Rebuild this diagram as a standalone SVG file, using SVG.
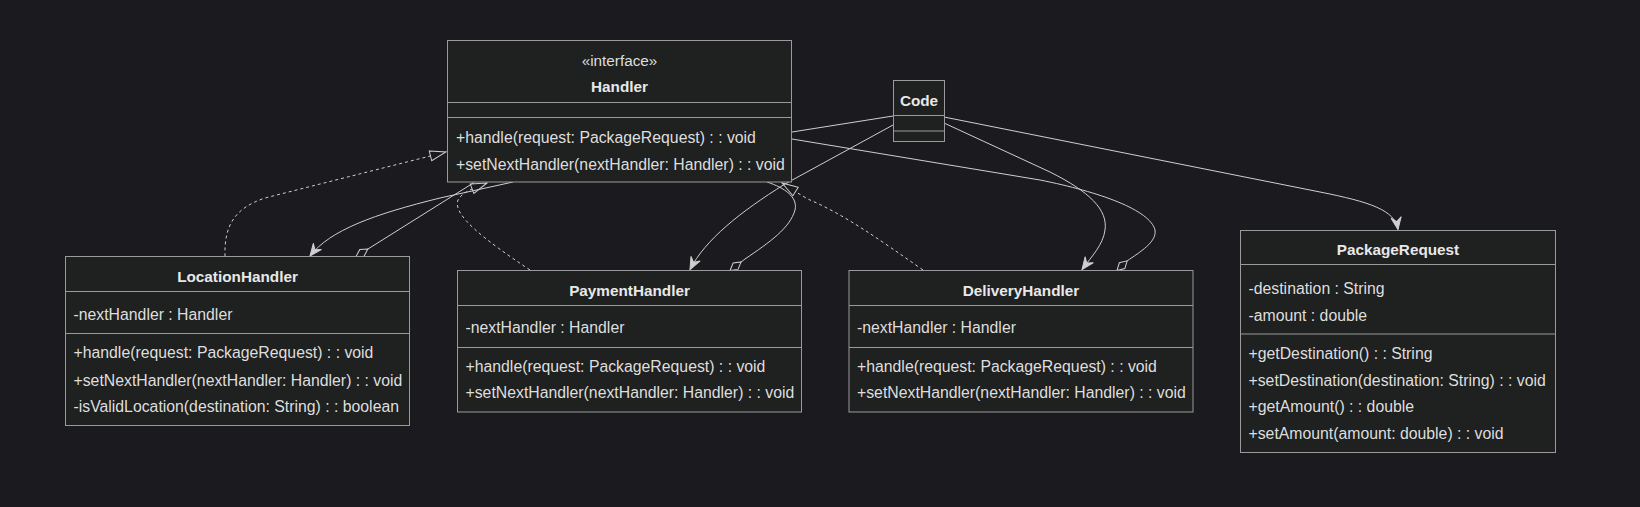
<svg xmlns="http://www.w3.org/2000/svg" width="1640" height="507" viewBox="0 0 1640 507">
<style>
.bg{fill:#1b1b1f}
.box{fill:#1f2020;stroke:#9a9a9a;stroke-width:1}
.div{stroke:#9a9a9a;stroke-width:1}
.t{font-family:"Liberation Sans",Arial,sans-serif;font-size:15.8px;fill:#dedede}
.b{font-weight:bold;font-size:15.3px;fill:#e8e8e8;text-anchor:middle}
.m{text-anchor:middle;font-size:15.3px}
.e{fill:none;stroke:#cfcfcf;stroke-width:1}
.d{stroke-dasharray:3 3}
</style>
<defs>
<marker id="ext" markerUnits="userSpaceOnUse" viewBox="-1 -1 18 12" refX="16" refY="5" markerWidth="18" markerHeight="12" orient="auto">
<path d="M0,0 L16,5 L0,10 Z" fill="#1b1b1f" stroke="#cfcfcf" stroke-width="1"/>
</marker>
<marker id="arr" markerUnits="userSpaceOnUse" viewBox="-1 -1 14 12" refX="12" refY="5" markerWidth="14" markerHeight="12" orient="auto">
<path d="M0,0 L12,5 L0,10 L4,5 Z" fill="#cfcfcf" stroke="#cfcfcf" stroke-width="1" stroke-linejoin="round"/>
</marker>
<marker id="dia" markerUnits="userSpaceOnUse" viewBox="-1 -1 16 12" refX="0" refY="5" markerWidth="16" markerHeight="12" orient="auto">
<path d="M0,5 L7,1 L14,5 L7,9 Z" fill="#1b1b1f" stroke="#cfcfcf" stroke-width="1"/>
</marker>
</defs>
<rect class="bg" x="0" y="0" width="1640" height="507"/>

<g id="connectors">
<path class="e d" d="M225,256.5 C224,225 235,208 265,198 L446,152" marker-end="url(#ext)"/>
<path class="e d" d="M530,270 C485,240 452,215 458,200 C462,192 474,188 487,183" marker-end="url(#ext)"/>
<path class="e d" d="M923,270 C880,240 845,215 810,200 C800,195 790,188 782,183" marker-end="url(#ext)"/>
<path class="e" d="M513,182 L440,198 C375,214 330,230 310,256" marker-end="url(#arr)"/>
<path class="e" d="M356,256.5 L474,182.5" marker-start="url(#dia)"/>
<path class="e" d="M730,270.5 L745,259 C770,242 790,228 795,210 C798,197 785,188 767,182" marker-start="url(#dia)"/>
<path class="e" d="M893,125 L785,184 C740,212 705,240 690,269.5" marker-end="url(#arr)"/>
<path class="e" d="M792,132 L893,116"/>
<path class="e" d="M1117,270.5 L1127,261 C1140,252 1157,242 1155,230 C1150,210 1100,192 1040,180 L792,139" marker-start="url(#dia)"/>
<path class="e" d="M944,123 L1050,172 C1090,192 1108,210 1105,230 C1103,245 1092,256 1082,269.5" marker-end="url(#arr)"/>
<path class="e" d="M944,117 L1320,192 C1370,202 1395,210 1398,229.5" marker-end="url(#arr)"/>
</g>

<g id="Handler">
<rect class="box" x="447.5" y="40.5" width="344" height="141.5"/>
<line class="div" x1="447.5" y1="102.5" x2="791.5" y2="102.5"/>
<line class="div" x1="447.5" y1="117.5" x2="791.5" y2="117.5"/>
<text class="t m" x="619.5" y="65.5">«interface»</text>
<text class="t b" x="619.5" y="92">Handler</text>
<text class="t" x="456" y="142.5">+handle(request: PackageRequest) : : void</text>
<text class="t" x="456" y="169.5">+setNextHandler(nextHandler: Handler) : : void</text>
</g>

<g id="Code">
<rect class="box" x="893.5" y="80.5" width="51" height="61"/>
<line class="div" x1="893.5" y1="115.5" x2="944.5" y2="115.5"/>
<line class="div" x1="893.5" y1="131" x2="944.5" y2="131"/>
<text class="t b" x="919" y="105.5">Code</text>
</g>

<g id="LocationHandler">
<rect class="box" x="65.5" y="256.5" width="344" height="169"/>
<line class="div" x1="65.5" y1="291.5" x2="409.5" y2="291.5"/>
<line class="div" x1="65.5" y1="333.5" x2="409.5" y2="333.5"/>
<text class="t b" x="237.5" y="281.5">LocationHandler</text>
<text class="t" x="73.5" y="320">-nextHandler : Handler</text>
<text class="t" x="73.5" y="358">+handle(request: PackageRequest) : : void</text>
<text class="t" x="73.5" y="385.5">+setNextHandler(nextHandler: Handler) : : void</text>
<text class="t" x="73.5" y="412">-isValidLocation(destination: String) : : boolean</text>
</g>

<g id="PaymentHandler">
<rect class="box" x="457.5" y="270.5" width="344" height="141.5"/>
<line class="div" x1="457.5" y1="305.5" x2="801.5" y2="305.5"/>
<line class="div" x1="457.5" y1="347.5" x2="801.5" y2="347.5"/>
<text class="t b" x="629.5" y="295.5">PaymentHandler</text>
<text class="t" x="465.5" y="333">-nextHandler : Handler</text>
<text class="t" x="465.5" y="371.5">+handle(request: PackageRequest) : : void</text>
<text class="t" x="465.5" y="398">+setNextHandler(nextHandler: Handler) : : void</text>
</g>

<g id="DeliveryHandler">
<rect class="box" x="849" y="270.5" width="344" height="141.5"/>
<line class="div" x1="849" y1="305.5" x2="1193" y2="305.5"/>
<line class="div" x1="849" y1="347.5" x2="1193" y2="347.5"/>
<text class="t b" x="1021" y="295.5">DeliveryHandler</text>
<text class="t" x="857" y="333">-nextHandler : Handler</text>
<text class="t" x="857" y="371.5">+handle(request: PackageRequest) : : void</text>
<text class="t" x="857" y="398">+setNextHandler(nextHandler: Handler) : : void</text>
</g>

<g id="PackageRequest">
<rect class="box" x="1240.5" y="230.5" width="315" height="222"/>
<line class="div" x1="1240.5" y1="264.5" x2="1555.5" y2="264.5"/>
<line class="div" x1="1240.5" y1="334" x2="1555.5" y2="334"/>
<text class="t b" x="1398" y="255">PackageRequest</text>
<text class="t" x="1248.5" y="294">-destination : String</text>
<text class="t" x="1248.5" y="321">-amount : double</text>
<text class="t" x="1248.5" y="359">+getDestination() : : String</text>
<text class="t" x="1248.5" y="385.5">+setDestination(destination: String) : : void</text>
<text class="t" x="1248.5" y="412">+getAmount() : : double</text>
<text class="t" x="1248.5" y="439">+setAmount(amount: double) : : void</text>
</g>
</svg>
